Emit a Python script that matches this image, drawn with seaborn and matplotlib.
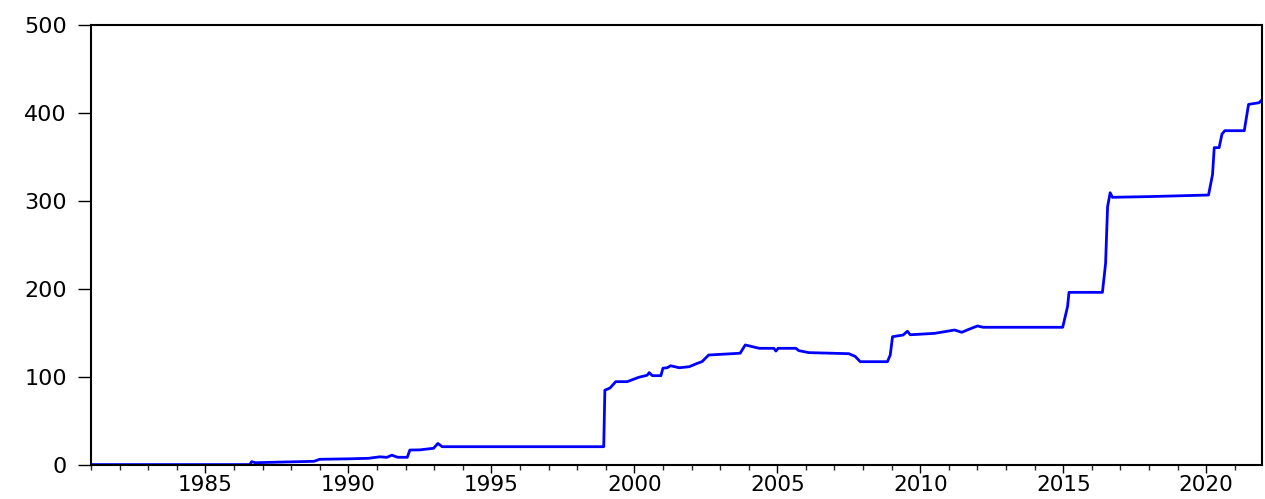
import matplotlib
matplotlib.use("Agg")
import matplotlib.pyplot as plt
from matplotlib.ticker import MultipleLocator
import seaborn as sns
import pandas as pd

# Breakpoints (decimal year, value)
years = [
    1981.00, 1986.55, 1986.62, 1986.75, 1987.50, 1988.80, 1989.00, 1990.00,
    1990.70, 1991.10, 1991.35, 1991.52, 1991.72, 1992.06, 1992.15, 1992.50,
    1992.98, 1993.13, 1993.28, 1998.93, 1998.97, 1999.15, 1999.35, 1999.75,
    2000.15, 2000.45, 2000.52, 2000.63, 2000.93, 2001.00, 2001.15, 2001.27,
    2001.57, 2001.92, 2002.20, 2002.37, 2002.60, 2003.70, 2003.88, 2004.37,
    2004.88, 2004.95, 2005.03, 2005.65, 2005.75, 2006.10, 2007.50, 2007.72,
    2007.90, 2008.85, 2008.95, 2009.03, 2009.40, 2009.55, 2009.65, 2010.50,
    2011.20, 2011.45, 2011.70, 2012.00, 2012.20, 2014.98, 2015.15, 2015.20,
    2016.37, 2016.48, 2016.55, 2016.64, 2016.72, 2018.00, 2020.08, 2020.22,
    2020.28, 2020.45, 2020.55, 2020.65, 2021.33, 2021.48, 2021.85, 2021.95,
]
values = [
    0.5, 0.5, 3.8, 2.6, 3.2, 4.2, 6.5, 7.0,
    7.6, 9.3, 8.7, 11.2, 8.8, 8.7, 17.0, 17.2,
    19.0, 24.5, 20.8, 20.8, 85.0, 87.5, 94.7, 94.7,
    99.6, 102.0, 105.0, 101.5, 101.5, 110.0, 110.5, 112.8,
    110.5, 111.7, 115.5, 117.5, 125.0, 127.0, 136.4, 132.6,
    132.6, 129.5, 132.6, 132.6, 130.0, 127.7, 126.5, 123.5,
    117.4, 117.4, 125.0, 145.8, 147.7, 152.0, 148.0, 149.6,
    153.4, 150.8, 154.2, 158.0, 156.5, 156.5, 180.0, 196.2,
    196.2, 229.0, 293.5, 309.4, 304.2, 305.0, 306.8, 330.0,
    360.6, 360.6, 376.0, 379.9, 379.9, 409.8, 411.7, 415.0,
]

major_ticks = [1985, 1990, 1995, 2000, 2005, 2010, 2015, 2020]
y_ticks = [0, 100, 200, 300, 400, 500]

df = pd.DataFrame({"year": years, "value": values})

sns.set_style("white")
plt.rcParams["font.family"] = ["DejaVu Sans"]

fig = plt.figure(figsize=(12.65, 4.99), dpi=100)
ax = fig.add_axes([91 / 1265, 1 - 465 / 499, (1262 - 91) / 1265, (465 - 25) / 499])

sns.lineplot(data=df, x="year", y="value", color="#0000ff", linewidth=2.0, ax=ax)

ax.set_xlim(1981.0, 2021.95)
ax.set_ylim(0, 500)
ax.set_xticks(major_ticks)
ax.set_xticklabels([str(t) for t in major_ticks])
ax.xaxis.set_minor_locator(MultipleLocator(1))
ax.set_yticks(y_ticks)
ax.set_yticklabels([str(t) for t in y_ticks])
ax.set_xlabel("")
ax.set_ylabel("")

for s in ax.spines.values():
    s.set_visible(True)
    s.set_color("black")
    s.set_linewidth(1.5)

ax.tick_params(axis="x", which="major", direction="out", length=6.0, width=1.0,
               pad=1.5, labelsize=15.5, colors="black", bottom=True)
ax.tick_params(axis="x", which="minor", direction="out", length=3.6, width=1.0,
               bottom=True)
ax.tick_params(axis="y", which="major", direction="out", length=9.5, width=1.0,
               pad=8, labelsize=16, colors="black", left=True)

fig.savefig("out.png", dpi=100, facecolor="white")
